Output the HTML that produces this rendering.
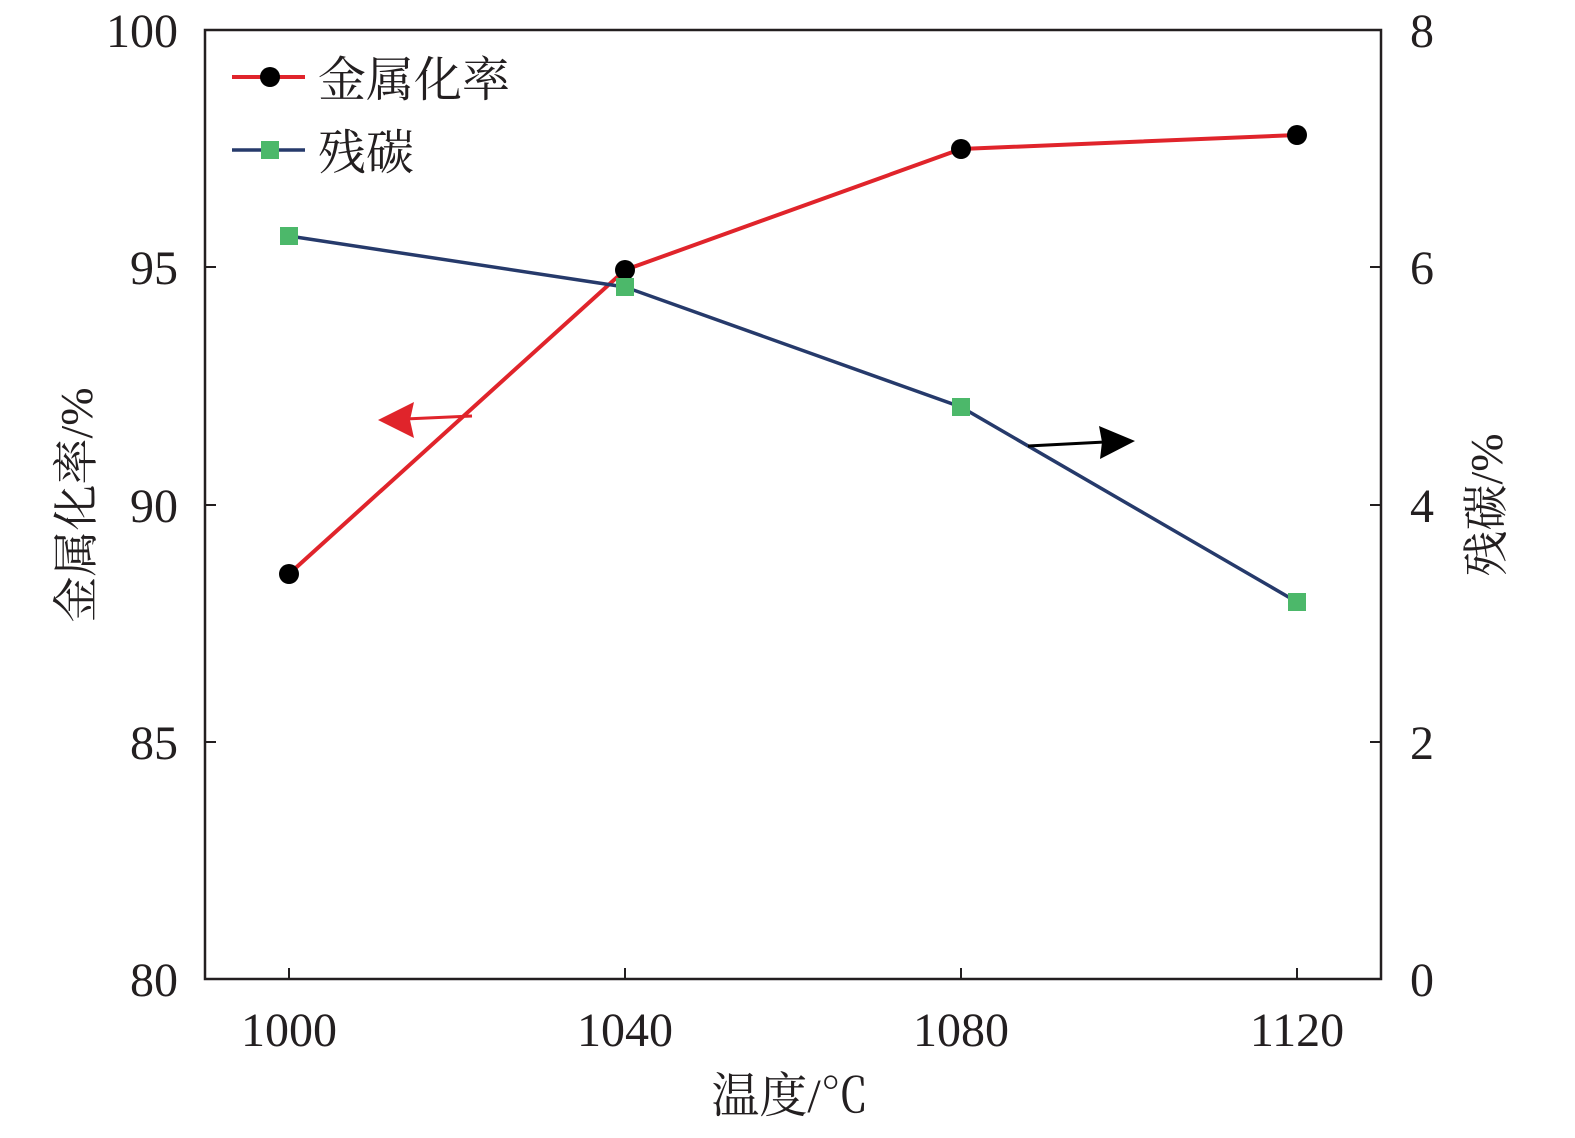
<!DOCTYPE html>
<html><head><meta charset="utf-8"><style>
html,body{margin:0;padding:0;background:#fff;}
text{font-family:"Liberation Serif","Times New Roman","Noto Serif CJK SC",serif;fill:#231f20;}
</style></head><body>
<svg width="1575" height="1133" viewBox="0 0 1575 1133" xmlns="http://www.w3.org/2000/svg">
<rect x="205" y="30" width="1176" height="949" fill="none" stroke="#231f20" stroke-width="2.5"/>
<g stroke="#231f20" stroke-width="2">
<line x1="205" y1="267" x2="216" y2="267"/><line x1="205" y1="505" x2="216" y2="505"/><line x1="205" y1="742" x2="216" y2="742"/>
<line x1="1370" y1="267" x2="1381" y2="267"/><line x1="1370" y1="505" x2="1381" y2="505"/><line x1="1370" y1="742" x2="1381" y2="742"/>
<line x1="289" y1="968" x2="289" y2="979"/><line x1="625" y1="968" x2="625" y2="979"/><line x1="961" y1="968" x2="961" y2="979"/><line x1="1297" y1="968" x2="1297" y2="979"/>
</g>
<g font-size="48" text-anchor="end">
<text x="178" y="47">100</text><text x="178" y="284">95</text><text x="178" y="522">90</text><text x="178" y="759">85</text><text x="178" y="996">80</text>
</g>
<g font-size="48" text-anchor="start">
<text x="1410" y="47">8</text><text x="1410" y="284">6</text><text x="1410" y="522">4</text><text x="1410" y="759">2</text><text x="1410" y="996">0</text>
</g>
<g font-size="48" text-anchor="middle">
<text x="289" y="1046">1000</text><text x="625" y="1046">1040</text><text x="961" y="1046">1080</text><text x="1297" y="1046">1120</text>
<text x="790" y="1112">温度/℃</text>
</g>
<text font-size="46" text-anchor="middle" transform="translate(92,505) rotate(-90)">金属化率/%</text>
<text font-size="46" text-anchor="middle" transform="translate(1502,505) rotate(-90)">残碳/%</text>
<polyline points="289,574 625,270 961,149 1297,135" fill="none" stroke="#e0242b" stroke-width="4"/>
<polyline points="289,236 625,287 961,407 1297,602" fill="none" stroke="#263a6b" stroke-width="3.5"/>
<g fill="#000"><circle cx="289" cy="574" r="10"/><circle cx="625" cy="270" r="10"/><circle cx="961" cy="149" r="10"/><circle cx="1297" cy="135" r="10"/></g>
<g fill="#4cb86a"><rect x="280" y="227" width="18" height="18"/><rect x="616" y="278" width="18" height="18"/><rect x="952" y="398" width="18" height="18"/><rect x="1288" y="593" width="18" height="18"/></g>
<line x1="472" y1="416" x2="405" y2="419" stroke="#e0242b" stroke-width="3"/>
<polygon points="378,420 414,402 410,420 414,438" fill="#e0242b"/>
<line x1="1028" y1="446" x2="1105" y2="442" stroke="#000" stroke-width="3"/>
<polygon points="1135,441 1099,426 1102,442 1100,459" fill="#000"/>
<line x1="232" y1="77" x2="305" y2="77" stroke="#e0242b" stroke-width="4"/>
<circle cx="270" cy="77" r="10" fill="#000"/>
<text x="318" y="96" font-size="48">金属化率</text>
<line x1="232" y1="150" x2="305" y2="150" stroke="#263a6b" stroke-width="3.5"/>
<rect x="261" y="141" width="18" height="18" fill="#4cb86a"/>
<text x="318" y="169" font-size="48">残碳</text>
</svg>
</body></html>
